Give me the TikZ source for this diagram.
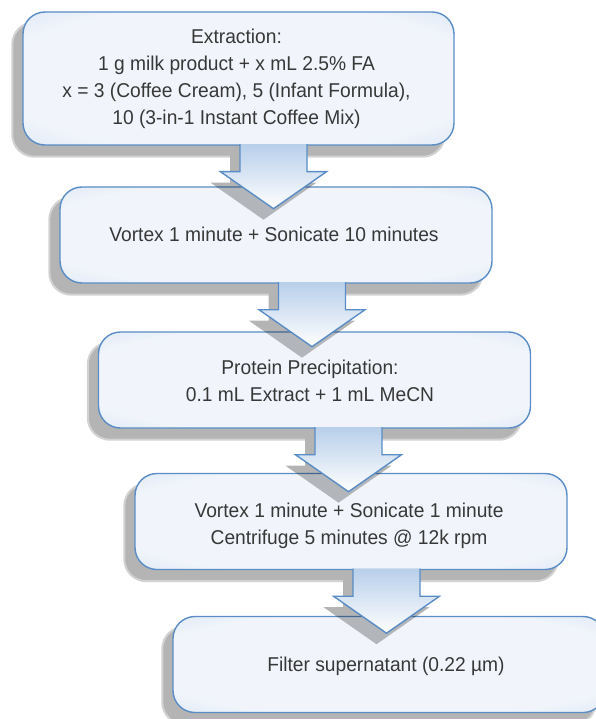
\documentclass[tikz,border=0pt]{standalone}
\usepackage{fontspec}
\setmainfont{Liberation Sans}[FakeStretch=0.96]
\usetikzlibrary{calc}
\pgfdeclarelayer{background}
\pgfsetlayers{background,main}
\definecolor{boxin}{HTML}{F1F5FB}
\definecolor{boxout}{HTML}{C1D5ED}
\definecolor{edgeblue}{HTML}{5A8DC6}
\definecolor{shadowgray}{HTML}{B4B4B4}
\definecolor{txtcol}{HTML}{383838}
\definecolor{arrowtop}{HTML}{B8CFEA}
\pgfdeclareradialshading{boxshade}{\pgfpoint{0bp}{0bp}}{color(0bp)=(boxin); color(28bp)=(boxin); color(50bp)=(boxout); color(100bp)=(boxout)}
\tikzset{
  flowbox/.style={draw=edgeblue, line width=1.4pt, rounded corners=22pt, shade, shading=boxshade,
    minimum width=432pt, minimum height=96pt, inner sep=0pt},
  flowtext/.style={text=txtcol, align=center, font=\fontsize{20}{27}\selectfont, inner sep=0pt},
  boxshadow/.style={fill=shadowgray, draw=shadowgray!60, line width=2pt, rounded corners=22pt},
  arrowshadow/.style={fill=shadowgray},
  arrowshadowover/.style={fill=black, opacity=0.26},
  arrowbody/.style={top color=arrowtop, bottom color=white},
  arrowedge/.style={draw=edgeblue, line width=1.4pt, line join=miter},
}
\newcommand\arrowpath[1]{(#1) ++(-33.5,-1.5) -- ++(0,27.5) -- ++(-19.5,0) -- ++(53,37) -- ++(53,-37) -- ++(-19.5,0) -- ++(0,-27.5)}
\newcommand\flowarrow[2]{%
  \coordinate (#1#2) at ($(#1.south -| #2.center)+(-2.5,0)$);
  \begin{pgfonlayer}{background}
    \path[arrowshadow] \arrowpath{$(#1#2)+(-10,11)$};
  \end{pgfonlayer}
  \begin{scope}
    \clip[rounded corners=22pt] (#2.south west) rectangle (#2.north east);
    \path[arrowshadowover] \arrowpath{$(#1#2)+(-10,11)$};
  \end{scope}
  \path[arrowbody] \arrowpath{#1#2};
  \path[arrowedge] \arrowpath{#1#2};
}
\begin{document}
\begin{tikzpicture}[x=1pt,y=-1pt]
\useasboundingbox (0,0) rectangle (596,719);
% boxes
\node[flowbox, minimum width=431pt, minimum height=133pt] (b1) at (238.5,78.5) {};
\node[flowbox] (b2) at (276,235) {};
\node[flowbox] (b3) at (314.5,380) {};
\node[flowbox] (b4) at (351,521.5) {};
\node[flowbox] (b5) at (389,664.5) {};
% box shadows
\begin{pgfonlayer}{background}
  \foreach \b in {b1,b2,b3,b4,b5}
    \path[boxshadow] ([xshift=-10pt,yshift=-11pt]\b.south west) rectangle ([xshift=-10pt,yshift=-11pt]\b.north east);
\end{pgfonlayer}
% block arrows
\flowarrow{b1}{b2}
\flowarrow{b2}{b3}
\flowarrow{b3}{b4}
\flowarrow{b4}{b5}
% texts
\node[flowtext] (t1) at (236.5,78.5) {Extraction:\\1 g milk product + x mL 2.5\% FA\\x = 3 (Coffee Cream), 5 (Infant Formula),\\10 (3-in-1 Instant Coffee Mix)};
\node[flowtext] (t2) at (274,234.8) {Vortex 1 minute + Sonicate 10 minutes};
\node[flowtext] (t3) at (310,381.3) {Protein Precipitation:\\0.1 mL Extract + 1 mL MeCN};
\node[flowtext] (t4) at (349,526.3) {Vortex 1 minute + Sonicate 1 minute\\Centrifuge 5 minutes @ 12k rpm};
\node[flowtext] (t5) at (386,666.8) {Filter supernatant (0.22 µm)};
\end{tikzpicture}
\end{document}
